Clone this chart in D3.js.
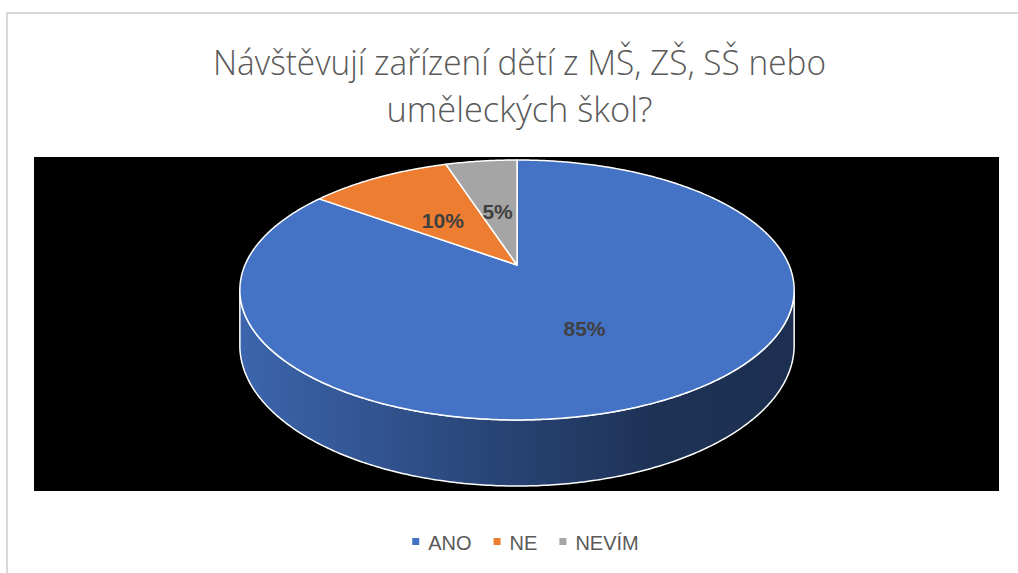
<!DOCTYPE html>
<html>
<head>
  <meta charset="utf-8">
  <title>Návštěvují zařízení dětí</title>
  <script src="https://cdn.jsdelivr.net/npm/d3@7"></script>
  <style>
    html, body { margin: 0; padding: 0; background: #fff; }
    svg { display: block; }
  </style>
</head>
<body>
  <svg id="graf"></svg>

  <script>
    const kategorie = ["ANO", "NE", "NEVÍM"];
    const hodnoty = [85, 10, 5];
    const barvy = ["#4472c4", "#ed7d31", "#a5a5a5"];
    const titulek = ["Návštěvují zařízení dětí z MŠ, ZŠ, SŠ nebo", "uměleckých škol?"];

    const W = 1018, H = 573;
    const svg = d3.select("#graf").attr("width", W).attr("height", H);

    // ram grafu
    svg.append("rect")
      .attr("x", 7).attr("y", 13)
      .attr("width", W + 20).attr("height", H + 20)
      .attr("fill", "#fff")
      .attr("stroke", "#d9d9d9")
      .attr("stroke-width", 2);

    // cerna plocha
    svg.append("rect")
      .attr("x", 34).attr("y", 157)
      .attr("width", 965).attr("height", 334)
      .attr("fill", "#000");

    // titulek
    const sirkyTitulku = [613, 266];
    svg.selectAll(".titulek")
      .data(titulek)
      .enter()
      .append("text")
      .attr("class", "titulek")
      .attr("x", 519.5)
      .attr("y", (d, i) => 75 + i * 47)
      .attr("text-anchor", "middle")
      .attr("textLength", (d, i) => sirkyTitulku[i])
      .attr("lengthAdjust", "spacingAndGlyphs")
      .style("font-family", "'Open Sans', 'Liberation Sans', sans-serif")
      .style("font-weight", 300)
      .style("font-size", "35px")
      .style("fill", "#595959")
      .text(d => d);

    // 3D kolac - perspektivni projekce
    const cx = 517, R = 272, k = 0.192, e = 265, c = 74.3, hloubka = 53.4;

    function proj(a, r, dole) {
      const X = r * Math.sin(a), Z = r * Math.cos(a);
      const d = 1 + k * Z;
      return [cx + R * X / d, (e - c * Z + (dole ? hloubka : 0)) / d];
    }

    const pie = d3.pie().sort(null).value(d => d);
    const oblouky = pie(hodnoty);

    function body(a0, a1, dole) {
      const n = Math.max(2, Math.ceil((a1 - a0) / 0.01));
      return d3.range(n + 1).map(i => proj(a0 + (a1 - a0) * i / n, 1, dole));
    }

    const line = d3.line();

    // gradienty pro bocni stenu
    const xMin = cx - R / Math.sqrt(1 - k * k);
    const xMax = cx + R / Math.sqrt(1 - k * k);
    const defs = svg.append("defs");
    oblouky.forEach((o, i) => {
      const base = d3.color(barvy[i]);
      const g = defs.append("linearGradient")
        .attr("id", "bok" + i)
        .attr("gradientUnits", "userSpaceOnUse")
        .attr("x1", xMin).attr("x2", xMax).attr("y1", 0).attr("y2", 0);
      [[0, 0.35], [0.45, 1.4], [0.75, 2.3], [1, 2.5]].forEach(s => {
        g.append("stop").attr("offset", s[0]).attr("stop-color", base.darker(s[1]).formatHex());
      });
    });

    // viditelna cast bocni steny (predni oblouk)
    const predniZ = Math.acos(-k);
    const predniK = 2 * Math.PI - predniZ;
    oblouky.forEach((o, i) => {
      const a0 = Math.max(o.startAngle, predniZ);
      const a1 = Math.min(o.endAngle, predniK);
      if (a1 <= a0) return;
      const pts = body(a0, a1, false).concat(body(a0, a1, true).reverse());
      svg.append("path")
        .attr("d", line(pts) + "Z")
        .attr("fill", `url(#bok${i})`)
        .attr("stroke", "#fff")
        .attr("stroke-width", 1.5)
        .attr("stroke-linejoin", "round");
    });

    // horni plocha
    svg.selectAll(".vysec")
      .data(oblouky)
      .enter()
      .append("path")
      .attr("class", "vysec")
      .attr("d", o => line([proj(0, 0, false)].concat(body(o.startAngle, o.endAngle, false))) + "Z")
      .attr("fill", (o, i) => barvy[i])
      .attr("stroke", "#fff")
      .attr("stroke-width", 1.5)
      .attr("stroke-linejoin", "round");

    // popisky
    const fs = 21;
    svg.selectAll(".popisek")
      .data(oblouky)
      .enter()
      .append("text")
      .attr("class", "popisek")
      .attr("x", o => proj((o.startAngle + o.endAngle) / 2, 0.5, false)[0])
      .attr("y", o => proj((o.startAngle + o.endAngle) / 2, 0.5, false)[1] + 2.5 + fs * 0.36)
      .attr("text-anchor", "middle")
      .style("font-family", "'Liberation Sans', Arial, sans-serif")
      .style("font-weight", "bold")
      .style("font-size", fs + "px")
      .style("fill", "#404040")
      .text(o => o.data + "%");

    // legenda
    const leg = svg.append("g");
    let lx = 0;
    kategorie.forEach((kat, i) => {
      leg.append("rect")
        .attr("x", lx).attr("y", 538)
        .attr("width", 7).attr("height", 7)
        .attr("fill", barvy[i]);
      const t = leg.append("text")
        .attr("x", lx + 16).attr("y", 550)
        .style("font-family", "'Liberation Sans', Arial, sans-serif")
        .style("font-size", "20px")
        .style("fill", "#595959")
        .text(kat);
      lx += 16 + t.node().getComputedTextLength() + 22;
    });
    const legW = lx - 22;
    leg.attr("transform", `translate(${525.5 - legW / 2},0)`);
  </script>
</body>
</html>
